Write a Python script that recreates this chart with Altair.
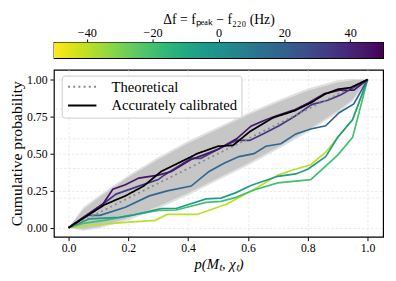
import altair as alt
import pandas as pd

FONT = "Liberation Serif"

# ---------------- data ----------------
yellow_x = [0, 0.06, 0.18, 0.29, 0.33, 0.43, 0.53, 0.63, 0.70, 0.75, 0.81, 0.86, 0.95, 1.0]
yellow_y = [0, 0.015, 0.035, 0.05, 0.09, 0.09, 0.16, 0.27, 0.355, 0.39, 0.425, 0.51, 0.73, 1.0]

green_x = [0, 0.05, 0.12, 0.2, 0.3, 0.36, 0.46, 0.51, 0.56, 0.62, 0.70, 0.81, 0.9, 0.95, 1.0]
green_y = [0, 0.03, 0.05, 0.08, 0.117, 0.12, 0.171, 0.178, 0.205, 0.255, 0.303, 0.325, 0.49, 0.61, 1.0]

teal_x = [0, 0.07, 0.17, 0.22, 0.31, 0.36, 0.46, 0.51, 0.56, 0.61, 0.70, 0.76, 0.80, 0.86, 0.90, 0.95, 1.0]
teal_y = [0, 0.06, 0.07, 0.088, 0.13, 0.13, 0.195, 0.2, 0.237, 0.285, 0.347, 0.363, 0.395, 0.48, 0.61, 0.73, 1.0]

blue_x = [0, 0.06, 0.105, 0.19, 0.27, 0.33, 0.41, 0.47, 0.52, 0.57, 0.62, 0.66, 0.71, 0.76, 0.81, 0.86, 0.905, 0.954, 1.0]
blue_y = [0, 0.084, 0.084, 0.138, 0.215, 0.249, 0.281, 0.38, 0.435, 0.48, 0.5, 0.55, 0.567, 0.633, 0.666, 0.688, 0.776, 0.835, 1.0]

purpleA_x = [0, 0.115, 0.148, 0.19, 0.235, 0.3, 0.344, 0.41, 0.45, 0.5, 0.562, 0.61, 0.65, 0.693, 0.758, 0.802, 0.856, 0.911, 0.954, 1.0]
purpleA_y = [0, 0.16, 0.26, 0.29, 0.335, 0.355, 0.38, 0.46, 0.49, 0.53, 0.6, 0.685, 0.72, 0.754, 0.798, 0.842, 0.905, 0.929, 0.929, 1.0]

purpleB_x = [0, 0.115, 0.159, 0.235, 0.3, 0.322, 0.41, 0.442, 0.529, 0.562, 0.606, 0.65, 0.704, 0.758, 0.813, 0.867, 0.911, 1.0]
purpleB_y = [0, 0.16, 0.227, 0.281, 0.325, 0.358, 0.468, 0.468, 0.56, 0.589, 0.589, 0.633, 0.688, 0.754, 0.831, 0.86, 0.897, 1.0]

series_names = ["yellow", "green", "teal", "blue", "purpleB", "purpleA"]
series_df = [-40, -20, -5, 17, 35, 45]
series_x = [yellow_x, green_x, teal_x, blue_x, purpleB_x, purpleA_x]
series_y = [yellow_y, green_y, teal_y, blue_y, purpleB_y, purpleA_y]

black_x = [0, 0.12, 0.19, 0.25, 0.31, 0.41, 0.43, 0.5, 0.55, 0.606, 0.682, 0.758, 0.813, 0.856, 0.9, 0.943, 1.0]
black_y = [0, 0.155, 0.215, 0.28, 0.38, 0.479, 0.5, 0.55, 0.556, 0.648, 0.741, 0.791, 0.846, 0.9, 0.934, 0.945, 1.0]

theory_x = [0, 1]
theory_y = [0, 1]

band_x = [0, 0.05, 0.1, 0.2, 0.3, 0.4, 0.5, 0.6, 0.7, 0.8, 0.9, 0.95, 1.0]
inner_hi = [0, 0.125, 0.2, 0.34, 0.46, 0.57, 0.665, 0.76, 0.845, 0.925, 0.98, 0.995, 1.0]
inner_lo = [0, -0.01, 0.005, 0.065, 0.145, 0.235, 0.335, 0.435, 0.545, 0.66, 0.79, 0.865, 1.0]
outer_hi = [0, 0.14, 0.215, 0.355, 0.475, 0.585, 0.68, 0.775, 0.86, 0.94, 0.995, 1.005, 1.0]
outer_lo = [0, -0.02, -0.005, 0.05, 0.13, 0.22, 0.32, 0.42, 0.53, 0.645, 0.775, 0.85, 1.0]

x_ticks = [0, 0.2, 0.4, 0.6, 0.8, 1.0]
y_ticks = [0, 0.25, 0.5, 0.75, 1.0]
extra_hgrid = [0.2, 0.4, 0.6, 0.8]
cb_ticks = [-40, -20, 0, 20, 40]
legend_labels = ["Theoretical", "Accurately calibrated"]

# ---------------- tables ----------------
rows = []
for name, dfv, xs, ys in zip(series_names, series_df, series_x, series_y):
    for i, (xv, yv) in enumerate(zip(xs, ys)):
        rows.append({"series": name, "df": dfv, "x": xv, "y": yv, "order": i})
lines_data = pd.DataFrame(rows)

ref_rows = []
for i, (xv, yv) in enumerate(zip(theory_x, theory_y)):
    ref_rows.append({"kind": legend_labels[0], "x": xv, "y": yv, "order": i})
for i, (xv, yv) in enumerate(zip(black_x, black_y)):
    ref_rows.append({"kind": legend_labels[1], "x": xv, "y": yv, "order": i})
ref_data = pd.DataFrame(ref_rows)

band_data = pd.DataFrame({"x": band_x, "ih": inner_hi, "il": inner_lo, "oh": outer_hi, "ol": outer_lo})
grid_data = pd.DataFrame({"g": extra_hgrid})

# ---------------- scales / axes ----------------
xscale = alt.Scale(domain=[-0.049, 1.052], nice=False, zero=False)
yscale = alt.Scale(domain=[-0.061, 1.066], nice=False, zero=False)
cscale = alt.Scale(scheme="viridis", reverse=True, domain=[-50, 50])

XT = "p(Mₜ, χₜ)"
YT = "Cumulative probability"
xaxis = alt.Axis(values=x_ticks, format=".1f", title=XT, titleFontStyle="italic",
                 tickSize=4, labelPadding=2, titlePadding=3, grid=True)
yaxis = alt.Axis(values=y_ticks, format=".2f", title=YT, titleFontSize=16,
                 tickSize=4, labelPadding=3, titlePadding=2, grid=True)

def X(field):
    return alt.X(field, scale=xscale, axis=xaxis, title=XT)

def Y(field):
    return alt.Y(field, scale=yscale, axis=yaxis, title=YT)

outer = alt.Chart(band_data).mark_area(color="#e0e0e0").encode(
    x=X("x:Q"), y=Y("oh:Q"), y2="ol:Q",
)
grid_layer = alt.Chart(grid_data).mark_rule(color="#e4e4e4", strokeDash=[2.5, 2], strokeWidth=0.8).encode(
    y=Y("g:Q")
)
inner = alt.Chart(band_data).mark_area(color="#c6c6c6").encode(
    x=X("x:Q"), y=Y("ih:Q"), y2="il:Q",
)

colored = alt.Chart(lines_data).mark_line(strokeWidth=1.7).encode(
    x=X("x:Q"), y=Y("y:Q"),
    color=alt.Color("df:Q", scale=cscale, legend=None),
    detail="series:N",
    order="order:Q",
)

legend = alt.Legend(title=None, orient="none", legendX=8, legendY=34,
                    symbolType="M-1,0H4.8", symbolSize=100, symbolStrokeWidth=2,
                    labelFont=FONT, labelFontSize=15, labelOffset=32, padding=4, rowPadding=3,
                    fillColor="rgba(255,255,255,0.85)", strokeColor="#cccccc", cornerRadius=3,
                    labelLimit=300)

refs = alt.Chart(ref_data).mark_line(strokeWidth=1.8).encode(
    x=X("x:Q"), y=Y("y:Q"),
    stroke=alt.Stroke("kind:N", scale=alt.Scale(domain=legend_labels, range=["#8a8a8a", "black"]), legend=legend),
    strokeDash=alt.StrokeDash("kind:N", scale=alt.Scale(domain=legend_labels, range=[[2, 3.3], [1, 0]]), legend=legend),
    order="order:Q",
)

main = alt.layer(outer, grid_layer, inner, colored, refs).properties(width=337, height=171)

colorbar = alt.Chart(alt.sequence(-50, 50, 0.5, as_="v")).transform_calculate(
    v2="datum.v + 1"
).mark_rect(clip=True).encode(
    x=alt.X("v:Q", scale=alt.Scale(domain=[-50, 50], nice=False, zero=False),
            axis=alt.Axis(orient="top", values=cb_ticks, title="Δf = fₚₑₐₖ − f₂₂₀ (Hz)",
                          tickSize=3.5, labelPadding=0, titlePadding=0, grid=False,
                          labelFontSize=12.5, titleFontSize=14)),
    x2="v2:Q",
    color=alt.Color("v:Q", scale=cscale, legend=None),
).properties(width=337, height=16)

chart = alt.vconcat(colorbar, main, spacing=10).properties(
    padding={"left": 0, "top": 0, "right": 4, "bottom": 4}
).configure_view(stroke="black", strokeWidth=1.2).configure_axis(
    labelFont=FONT, titleFont=FONT, labelFontSize=12, titleFontSize=15, labelColor="black",
    titleColor="black", titleFontWeight="normal", tickColor="black", tickWidth=1, domain=False,
    gridColor="#e4e4e4", gridDash=[2.5, 2], gridWidth=0.8,
)

chart.save("out.html", embed_options={"renderer": "svg", "actions": False})
